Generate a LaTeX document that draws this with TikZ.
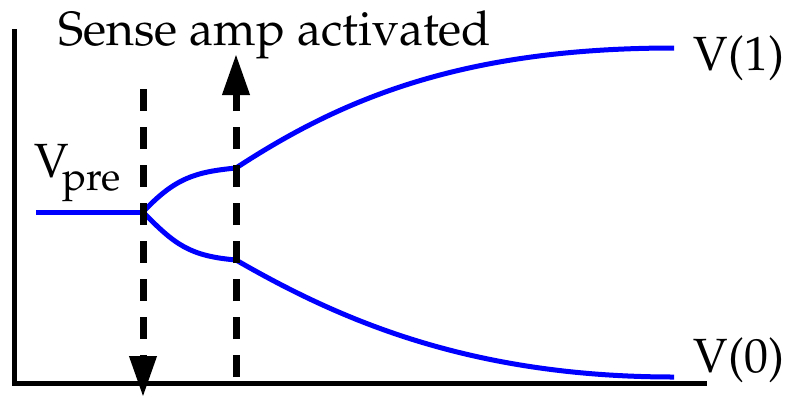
\documentclass[tikz,border=0pt]{standalone}
\usepackage[T1]{fontenc}
\renewcommand\rmdefault{ppl}
\usetikzlibrary{arrows.meta}
\tikzset{
  axis/.style={line width=2.5pt, line cap=butt},
  sig/.style={line width=2.5pt, blue},
  dasharrow/.style={line width=3.5pt, dash pattern=on 11pt off 8pt, -{Triangle[length=20.5pt,width=13pt]}},
  lbl/.style={inner sep=0pt, anchor=base west, font=\fontsize{24}{28}\selectfont}
}
\begin{document}
\begin{tikzpicture}[x=0.5pt,y=-0.5pt]
\useasboundingbox (0,0) rectangle (787,397);
% axes
\coordinate (top) at (14.5,29);
\coordinate (origin) at (14.5,383.5);
\coordinate (right) at (707,383.5);
\draw[axis] (top) -- (origin) -- (right);
% signal points
\coordinate (s0) at (36,212);
\coordinate (split) at (143,212);
\coordinate (u1) at (236,168);
\coordinate (u2) at (674,48);
\coordinate (l1) at (236,260);
\coordinate (l2) at (674,377);
\draw[sig] (s0) -- (split);
\draw[sig] (split) .. controls (175,178) and (195,172) .. (u1)
  .. controls (340,100) and (460,48) .. (u2);
\draw[sig] (split) .. controls (175,245) and (190,256) .. (l1)
  .. controls (340,320) and (470,377) .. (l2);
% dashed arrows
\coordinate (a1s) at (143,89);
\coordinate (a1e) at (143,397);
\coordinate (a2s) at (236,377);
\coordinate (a2e) at (236,54);
\draw[dasharrow] (a1s) -- (a1e);
\draw[dasharrow] (a2s) -- (a2e);
% labels
\node[lbl] (title) at (58,45) {Sense amp activated};
\node[lbl] (v1) at (693,70) {V(1)};
\node[lbl] (v0) at (693,372) {V(0)};
\node[lbl] (vpre) at (34,177) {V\kern-3.5pt\raisebox{-6.5pt}{\fontsize{20}{24}\selectfont pre}};
\end{tikzpicture}
\end{document}
